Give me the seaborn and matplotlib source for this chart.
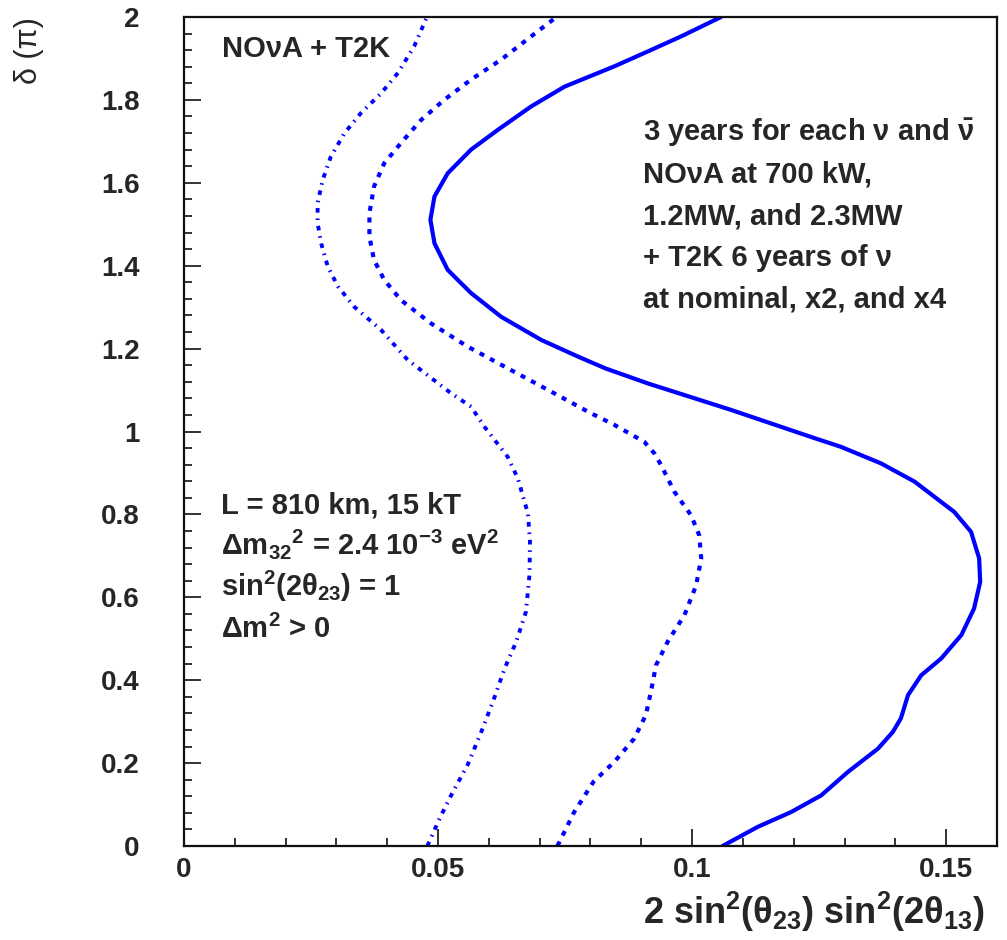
import pandas as pd
import matplotlib
matplotlib.use('Agg')
import matplotlib.pyplot as plt
from matplotlib.ticker import MultipleLocator
import seaborn as sns

# delta (in units of pi) and 2 sin^2(theta23) sin^2(2 theta13)
delta_nominal = [0.0, 0.046, 0.082, 0.122, 0.179, 0.235, 0.275, 0.308, 0.364, 0.412,
                 0.452, 0.509, 0.573, 0.637, 0.694, 0.758, 0.806, 0.879, 0.923, 0.963,
                 0.984, 1.052, 1.116, 1.152, 1.181, 1.221, 1.277, 1.334, 1.390, 1.454,
                 1.511, 1.567, 1.623, 1.680, 1.728, 1.784, 1.832, 1.881, 1.917, 1.953, 2.0]
s2_nominal = [0.1060, 0.1129, 0.1195, 0.1254, 0.1307, 0.1366, 0.1395, 0.1411, 0.1425, 0.1451,
              0.1490, 0.1530, 0.1555, 0.1567, 0.1565, 0.1549, 0.1516, 0.1438, 0.1372, 0.1293,
              0.1241, 0.1077, 0.0913, 0.0830, 0.0775, 0.0703, 0.0624, 0.0565, 0.0519, 0.0493,
              0.0485, 0.0493, 0.0519, 0.0565, 0.0618, 0.0683, 0.0749, 0.0847, 0.0913, 0.0978, 0.1057]

delta_x2 = [0.0, 0.082, 0.155, 0.203, 0.259, 0.316, 0.372, 0.436, 0.493, 0.557,
            0.629, 0.694, 0.750, 0.798, 0.855, 0.919, 0.947, 0.975, 1.016, 1.044,
            1.092, 1.148, 1.205, 1.261, 1.317, 1.366, 1.414, 1.470, 1.527, 1.591,
            1.647, 1.696, 1.752, 1.800, 1.849, 1.897, 1.953, 2.0]
s2_x2 = [0.0735, 0.0768, 0.0806, 0.0847, 0.0886, 0.0909, 0.0919, 0.0929, 0.0952, 0.0985,
         0.1008, 0.1018, 0.1014, 0.0998, 0.0965, 0.0939, 0.0926, 0.0906, 0.0847, 0.0801,
         0.0729, 0.0644, 0.0558, 0.0486, 0.0427, 0.0394, 0.0374, 0.0365, 0.0365, 0.0374,
         0.0394, 0.0427, 0.0467, 0.0512, 0.0565, 0.0624, 0.0683, 0.0733]

delta_x4 = [0.0, 0.066, 0.130, 0.195, 0.275, 0.348, 0.428, 0.493, 0.565, 0.654,
            0.734, 0.802, 0.887, 0.939, 1.012, 1.060, 1.092, 1.173, 1.245, 1.301,
            1.350, 1.398, 1.454, 1.503, 1.551, 1.607, 1.663, 1.720, 1.768, 1.816,
            1.865, 1.929, 2.0]
s2_x4 = [0.0479, 0.0503, 0.0529, 0.0558, 0.0585, 0.0608, 0.0631, 0.0654, 0.0673, 0.0680,
         0.0681, 0.0677, 0.0657, 0.0637, 0.0591, 0.0565, 0.0526, 0.0440, 0.0388, 0.0335,
         0.0303, 0.0283, 0.0270, 0.0263, 0.0263, 0.0273, 0.0289, 0.0316, 0.0348, 0.0388,
         0.0421, 0.0453, 0.0478]

x_ticks = [0, 0.05, 0.1, 0.15]
x_tick_labels = ['0', '0.05', '0.1', '0.15']
y_ticks = [0, 0.2, 0.4, 0.6, 0.8, 1.0, 1.2, 1.4, 1.6, 1.8, 2.0]
y_tick_labels = ['0', '0.2', '0.4', '0.6', '0.8', '1', '1.2', '1.4', '1.6', '1.8', '2']

right_text = ['3 years for each ν and $\\bar{\\nu}$',
              'NOνA at 700 kW,',
              '1.2MW, and 2.3MW',
              '+ T2K 6 years of ν',
              'at nominal, x2, and x4']
left_text = ['L = 810 km, 15 kT',
             'Δm$_{32}$$^{2}$ = 2.4 10$^{-3}$ eV$^{2}$',
             'sin$^{2}$(2θ$_{23}$) = 1',
             'Δm$^{2}$ > 0']

sns.set_style('ticks')
plt.rcParams['font.family'] = ['Liberation Sans', 'DejaVu Sans']
plt.rcParams['font.weight'] = 'bold'
plt.rcParams['mathtext.fontset'] = 'custom'
plt.rcParams['mathtext.rm'] = 'Liberation Sans:bold'
plt.rcParams['mathtext.it'] = 'Liberation Sans:bold'
plt.rcParams['mathtext.bf'] = 'Liberation Sans:bold'

fig = plt.figure(figsize=(10.07, 9.4), dpi=100)
ax = fig.add_axes([0.1827, 0.1, 0.8073, 0.8819])

blue = '#0000ff'
df_nom = pd.DataFrame({'s2': s2_nominal, 'delta': delta_nominal})
df_x2 = pd.DataFrame({'s2': s2_x2, 'delta': delta_x2})
df_x4 = pd.DataFrame({'s2': s2_x4, 'delta': delta_x4})

sns.lineplot(data=df_nom, x='s2', y='delta', sort=False, estimator=None,
             color=blue, lw=3, ax=ax)
sns.lineplot(data=df_x2, x='s2', y='delta', sort=False, estimator=None,
             color=blue, lw=3, linestyle=(0, (1.2, 1.6)), ax=ax)
sns.lineplot(data=df_x4, x='s2', y='delta', sort=False, estimator=None,
             color=blue, lw=2.8, linestyle=(0, (1.2, 1.5, 0.4, 1.5)), ax=ax)

ax.set_xlim(0, 0.16)
ax.set_ylim(0, 2)
ax.set_xticks(x_ticks)
ax.set_xticklabels(x_tick_labels)
ax.set_yticks(y_ticks)
ax.set_yticklabels(y_tick_labels)
ax.xaxis.set_minor_locator(MultipleLocator(0.01))
ax.yaxis.set_minor_locator(MultipleLocator(0.04))
ax.tick_params(which='both', direction='in', top=False, right=False,
               labelsize=20, color='#111111')
ax.tick_params(which='major', length=12, width=1.2)
ax.tick_params(which='minor', length=6, width=1.2)
ax.tick_params(axis='y', pad=32)
ax.tick_params(axis='x', pad=8)
for sp in ax.spines.values():
    sp.set_linewidth(1.6)
    sp.set_color('#111111')

ax.set_xlabel('2 sin$^{2}$(θ$_{23}$) sin$^{2}$(2θ$_{13}$)', fontsize=26,
              fontweight='bold', loc='right', labelpad=5)
ax.xaxis.label.set_x(0.985)
ax.set_ylabel('δ (π)', fontsize=22, fontweight='normal', loc='top')
ax.yaxis.set_label_coords(-0.172, 1.0)

ax.text(0.0074, 1.904, 'NOνA + T2K', fontsize=21, va='baseline')
for i, line in enumerate(right_text):
    ax.text(0.0903, 1.70 - 0.1 * i, line, fontsize=21, va='baseline')
for i, line in enumerate(left_text):
    ax.text(0.0073, 0.803 - 0.1 * i, line, fontsize=21, va='baseline')

fig.savefig('out.png', dpi=100)
